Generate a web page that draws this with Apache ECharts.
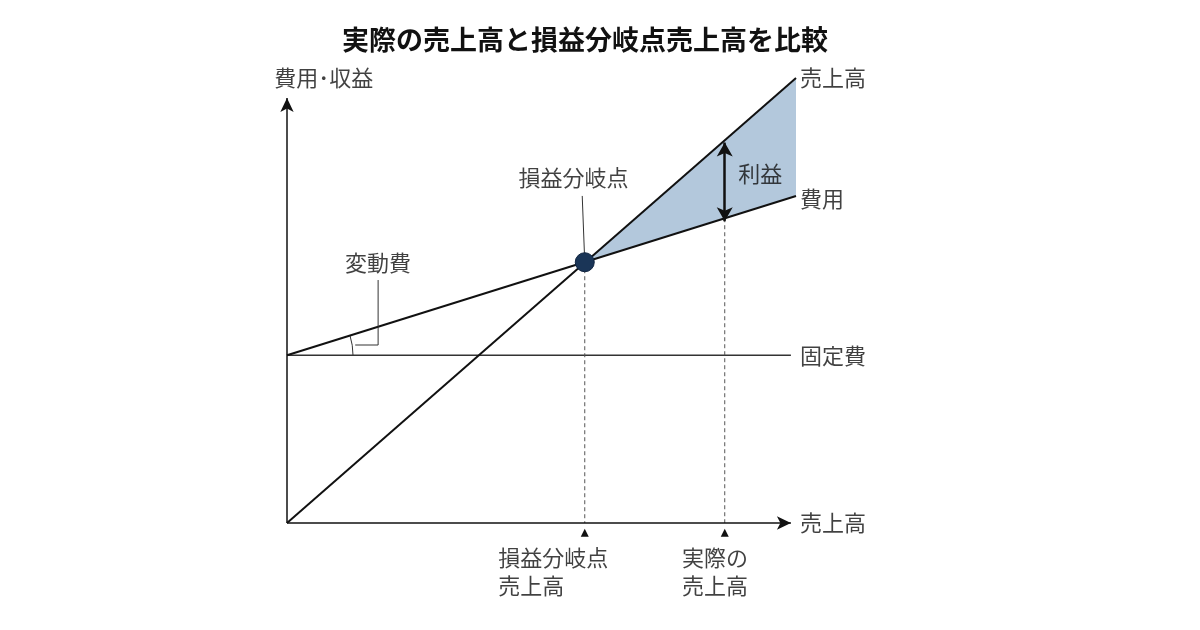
<!DOCTYPE html>
<html><head><meta charset="utf-8">
<script src="https://cdn.jsdelivr.net/npm/echarts@6/dist/echarts.min.js"></script>
<style>body{margin:0;background:#fff}#c{width:1200px;height:630px}</style>
</head><body><div id="c"></div>
<script>
// 売上高・費用の線（横軸 0〜100, 縦軸 0〜100）
const salesLine = [[0, 0], [100, 100]];
const costLine = [[0, 37.7], [100, 73.5]];
const fixedLine = [[0, 37.7], [99, 37.7]];
const breakEven = [58.5, 58.6];
const actualSales = 86;
const costAtActual = 37.7 + 0.86 * 35.8;

const F = '"Noto Sans CJK JP", sans-serif';
const chart = echarts.init(document.getElementById('c'));

const txt = (name, x, y, pos, extra) => ({
  type: 'scatter', data: [[x, y]], symbolSize: 0, clip: false, silent: true,
  label: Object.assign({ show: true, formatter: name, position: pos, color: '#111',
    fontSize: 22, fontFamily: F, lineHeight: 28 }, extra || {})
});
const seg = (pts, style) => ({
  type: 'line', data: pts, symbol: 'none', clip: false, silent: true,
  lineStyle: Object.assign({ color: '#111', width: 2 }, style || {})
});

chart.setOption({
  animation: false,
  title: { text: '実際の売上高と損益分岐点売上高を比較', left: 580, textAlign: 'center', top: 21,
    textStyle: { fontFamily: F, fontSize: 27, fontWeight: 'bold', color: '#111' } },
  grid: { left: 287, top: 78, width: 509, height: 445 },
  xAxis: { type: 'value', min: 0, max: 100, show: false },
  yAxis: { type: 'value', min: 0, max: 100, show: false },
  series: [
    {
      type: 'custom', silent: true, data: [0],
      renderItem: (p, api) => {
        const pts = [[breakEven[0], breakEven[1]], salesLine[1], costLine[1]].map(v => api.coord(v));
        return { type: 'polygon', shape: { points: pts }, style: { fill: '#b3c8dc' } };
      }
    },
    seg(fixedLine, { color: '#333', width: 1.5 }),
    seg(salesLine),
    seg(costLine),
    seg([[breakEven[0], breakEven[1]], [breakEven[0], 0]], { color: '#555', width: 1, type: [4, 3] }),
    seg([[actualSales, costAtActual], [actualSales, 0]], { color: '#555', width: 1, type: [4, 3] }),
    seg([[breakEven[0], breakEven[1]], [breakEven[0] - 0.5, 73.5]], { color: '#333', width: 1 }),
    seg([[17.9, 54.6], [17.9, 40], [13.4, 40]], { color: '#333', width: 1 }),
    {
      type: 'line', data: [], silent: true,
      markLine: { silent: true, symbol: ['none', 'arrow'], symbolSize: [10, 14], label: { show: false },
        lineStyle: { color: '#111', width: 1.5, type: 'solid' },
        data: [[{ coord: [0, 0] }, { coord: [99, 0] }], [{ coord: [0, 0] }, { coord: [0, 95.5] }]] }
    },
    {
      type: 'line', data: [], silent: true,
      markLine: { silent: true, symbol: ['arrow', 'arrow'], symbolSize: [12, 14], label: { show: false },
        lineStyle: { color: '#111', width: 2.5, type: 'solid' },
        data: [[{ coord: [actualSales, 85.5] }, { coord: [actualSales, 67.8] }]] }
    },
    { type: 'scatter', data: [breakEven], symbolSize: 19, z: 5,
      itemStyle: { color: '#1a3557', opacity: 1, borderColor: '#0f2440', borderWidth: 1 } },
    { type: 'scatter', data: [[breakEven[0], -2.2], [actualSales, -2.2]], symbol: 'triangle', symbolSize: [8, 8],
      clip: false, itemStyle: { color: '#111', opacity: 1 } },
    txt('売上高', 100, 100, 'right', { distance: 4 }),
    txt('費用', 100, 73, 'right', { distance: 4 }),
    txt('固定費', 100, 37.5, 'right', { distance: 4 }),
    txt('売上高', 100, 0, 'right', { distance: 4 }),
    txt('費用･収益', -2.5, 100, 'insideLeft', { distance: 0 }),
    txt('損益分岐点', breakEven[0] - 2.2, 77.5, 'inside'),
    txt('変動費', 17.9, 58.5, 'inside'),
    txt('利益', 93, 78.5, 'inside'),
    txt('損益分岐点\n売上高', breakEven[0] - 17, -11, 'insideLeft', { distance: 0 }),
    txt('実際の\n売上高', actualSales - 8.4, -11, 'insideLeft', { distance: 0 })
  ]
});

// 変動費の角度を示す小さな弧
const o = chart.convertToPixel({ gridIndex: 0 }, [0, 37.7]);
const e = chart.convertToPixel({ gridIndex: 0 }, costLine[1]);
const ang = Math.atan2(e[1] - o[1], e[0] - o[0]);
chart.setOption({ graphic: [{ type: 'arc', shape: { cx: o[0], cy: o[1], r: 66, startAngle: ang, endAngle: 0 },
  style: { stroke: '#333', lineWidth: 1, fill: null } }] });
</script></body></html>
